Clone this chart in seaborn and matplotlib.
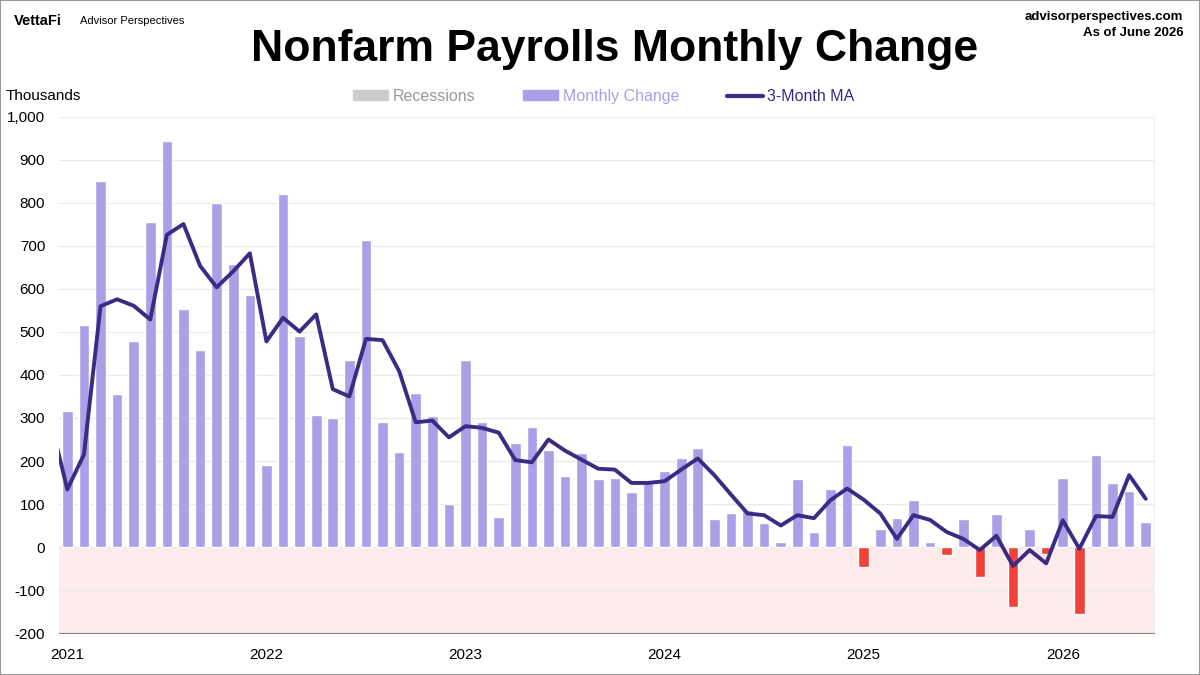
import matplotlib
matplotlib.use('Agg')
import matplotlib.pyplot as plt
import seaborn as sns
import pandas as pd
import numpy as np
from matplotlib.patches import Patch, Rectangle
from matplotlib.lines import Line2D

# Datos: enero 2021 - junio 2026 (miles)
years = ['2021', '2022', '2023', '2024', '2025', '2026']

monthly_change = [
    316, 516, 852, 356, 479, 755, 943, 553, 457, 801, 658, 586,   # 2021
    190, 821, 490, 307, 301, 435, 715, 291, 220, 357, 304, 101,   # 2022
    435, 291, 69, 242, 280, 225, 164, 218, 158, 160, 128, 154,    # 2023
    176, 206, 230, 65, 80, 87, 55, 11, 157, 34, 134, 237,         # 2024
    -47, 43, 68, 109, 12, -18, 65, -69, 77, -139, 41, -16,        # 2025
    160, -155, 215, 148, 130, 58,                                 # 2026
]

# Media móvil 3 meses, empieza en dic 2020 (cortada en el borde izquierdo)
ma_3m = [
    292,
    134, 215, 560, 576, 561, 529, 726, 751, 654, 604, 641, 683,
    478, 533, 501, 541, 367, 350, 484, 481, 409, 290, 294, 255,
    281, 277, 266, 202, 197, 250, 224, 203, 182, 180, 149, 149,
    153, 180, 206, 167, 122, 78, 74, 50, 74, 67, 109, 136,
    110, 78, 19, 74, 63, 35, 19, -7, 26, -44, -7, -38,
    62, -4, 72, 70, 167, 112,
]

LAV = '#ab9fe7'
RED = '#f0413a'
LINE = '#3d2a85'
PINK = '#fdeceb'
GRID = '#ebebeb'

sns.set_style('white')
plt.rcParams['font.family'] = ['Liberation Sans', 'DejaVu Sans']
plt.rcParams['text.color'] = 'black'

df = pd.DataFrame({'pos': np.arange(len(monthly_change)), 'change': monthly_change})
df['sign'] = np.where(df['change'] < 0, 'neg', 'pos')
ma_df = pd.DataFrame({'pos': np.arange(-1, len(ma_3m) - 1), 'ma': ma_3m})

fig = plt.figure(figsize=(12, 6.75), dpi=100)
ax = fig.add_axes([0.0492, 0.0622, 0.9125, 0.7645])

ax.axhspan(-200, 0, color=PINK, zorder=0, lw=0)
sns.barplot(data=df, x='pos', y='change', hue='sign', palette={'pos': LAV, 'neg': RED},
            dodge=False, width=0.64, saturation=1, legend=False, ax=ax, zorder=2)
sns.lineplot(data=ma_df, x='pos', y='ma', color=LINE, lw=2.8, ax=ax, zorder=3)

ax.set_xlim(-0.5, len(monthly_change) - 0.5)
ax.set_ylim(-200, 1000)
ax.set_yticks(range(-200, 1001, 100))
ax.set_yticklabels([f'{v:,}' for v in range(-200, 1001, 100)])
ax.set_xticks([12 * i for i in range(len(years))])
ax.set_xticklabels(years)
ax.set_xlabel('')
ax.set_ylabel('')
ax.tick_params(axis='both', length=0, labelsize=11, colors='black')
ax.tick_params(axis='y', pad=10)
ax.tick_params(axis='x', pad=11)
ax.yaxis.grid(True, color=GRID, lw=1, zorder=1)
ax.set_axisbelow(True)
ax.spines['left'].set_visible(False)
ax.spines['top'].set_color('#f0f0f0')
ax.spines['right'].set_color('#f0f0f0')
ax.spines['bottom'].set_color('#888888')

# Textos
fig.text(0.512, 0.926, 'Nonfarm Payrolls Monthly Change', ha='center', va='center',
         fontsize=32, fontweight='bold')
fig.text(0.012, 0.969, 'VettaFi', ha='left', va='center', fontsize=10.5, fontweight='bold')
fig.text(0.067, 0.969, 'Advisor Perspectives', ha='left', va='center', fontsize=8)
fig.text(0.986, 0.975, 'advisorperspectives.com', ha='right', va='center', fontsize=9.5, fontweight='bold')
fig.text(0.986, 0.951, 'As of June 2026', ha='right', va='center', fontsize=9.5, fontweight='bold')
fig.text(0.005, 0.858, 'Thousands', ha='left', va='center', fontsize=11)

handles = [Patch(color='#cccccc'), Patch(color=LAV), Line2D([], [], color=LINE, lw=3)]
leg = fig.legend(handles, ['Recessions', 'Monthly Change', '3-Month MA'], loc='center',
                 bbox_to_anchor=(0.503, 0.857), ncol=3, frameon=False, fontsize=11.5,
                 handlelength=2.2, handleheight=0.6, handletextpad=0.3, columnspacing=3.0)
for txt, c in zip(leg.get_texts(), ['#999999', LAV, LINE]):
    txt.set_color(c)

fig.patches.append(Rectangle((0, 0), 1, 1, transform=fig.transFigure, fill=False,
                             edgecolor='#999999', lw=1.5))

fig.savefig('out.png', dpi=100)
